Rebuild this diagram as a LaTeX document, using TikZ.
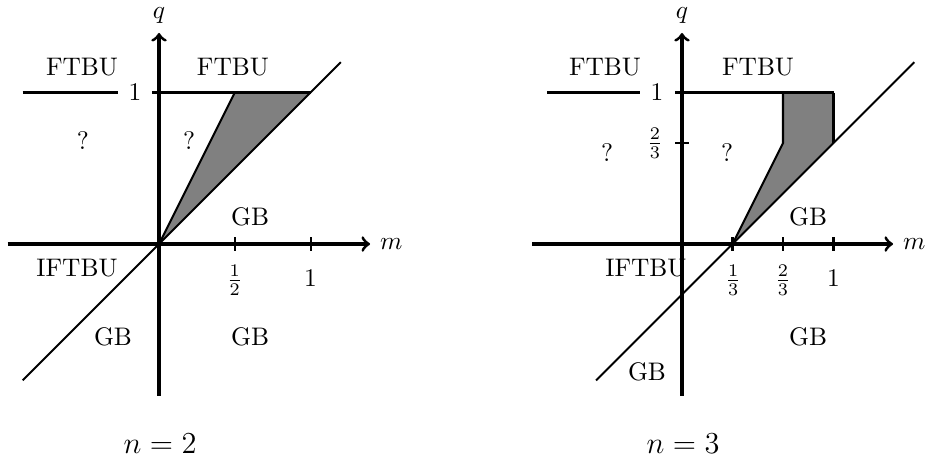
\documentclass[tikz,border=0pt]{standalone}
\begin{document}
\begin{tikzpicture}[x=59.65pt,y=59.65pt,
  axisline/.style={line width=1.2pt,->},
  plotline/.style={line width=0.8pt},
  tickmark/.style={line width=0.8pt},
  lbl/.style={inner sep=0pt},
  caption/.style={font=\large}]
\useasboundingbox (-1.0496,-1.4388) rectangle (5.0692,1.6107);
% ---------- left panel, n = 2 ----------
\begin{scope}
  \fill[gray] (0,0) -- (0.5,1) -- (1,1) -- cycle;
  \draw[plotline] (0,0) -- (0.5,1);
  \coordinate (L-d1) at (-0.9,-0.9);
  \coordinate (L-d2) at (1.2,1.2);
  \draw[plotline] (L-d1) -- (L-d2);
  \node[lbl] (L-one) at (-0.158,1) {$1$};
  \coordinate (L-h0) at (-0.9,1);
  \coordinate (L-h1) at (-0.046,1);
  \coordinate (L-h2) at (1,1);
  \draw[plotline] (L-h0) -- ([xshift=-4pt]L-one.west);
  \draw[plotline] (L-h1) -- (L-h2);
  \coordinate (L-xa) at (-1,0);
  \coordinate (L-xb) at (1.393,0);
  \coordinate (L-ya) at (0,-1);
  \coordinate (L-yb) at (0,1.393);
  \draw[axisline] (L-xa) -- (L-xb) node[right] (L-m) {$m$};
  \draw[axisline] (L-ya) -- (L-yb) node[above] (L-q) {$q$};
  \draw[tickmark] (0.5,0.046) -- (0.5,-0.046);
  \draw[tickmark] (1,0.046) -- (1,-0.046);
  \node (L-t1) at (0.5,-0.238) {$\frac{1}{2}$};
  \node (L-t2) at (1,-0.224) {$1$};
  \node (L-f1) at (-0.508,1.168) {FTBU};
  \node (L-f2) at (0.488,1.168) {FTBU};
  \node (L-u1) at (-0.502,0.686) {?};
  \node (L-u2) at (0.198,0.686) {?};
  \node (L-g1) at (0.601,0.178) {GB};
  \node (L-i) at (-0.541,-0.158) {IFTBU};
  \node (L-g2) at (-0.304,-0.614) {GB};
  \node (L-g3) at (0.601,-0.614) {GB};
  \node[caption] (L-n) at (0.007,-1.32) {$n=2$};
\end{scope}
% ---------- right panel, n = 3 ----------
\begin{scope}[shift={(3.452,0)}]
  \fill[gray] (1/3,0) -- (2/3,2/3) -- (2/3,1) -- (1,1) -- (1,2/3) -- cycle;
  \draw[plotline] (1/3,0) -- (2/3,2/3) -- (2/3,1);
  \draw[plotline] (1,1) -- (1,2/3);
  \coordinate (R-d1) at (-0.567,-0.9);
  \coordinate (R-d2) at (1.533,1.2);
  \draw[plotline] (R-d1) -- (R-d2);
  \node[lbl] (R-one) at (-0.165,1) {$1$};
  \coordinate (R-h0) at (-0.891,1);
  \coordinate (R-h1) at (-0.046,1);
  \coordinate (R-h2) at (1,1);
  \draw[plotline] (R-h0) -- ([xshift=-4pt]R-one.west);
  \draw[plotline] (R-h1) -- (R-h2);
  \draw[tickmark] (-0.046,2/3) -- (0.046,2/3);
  \node (R-q23) at (-0.178,2/3) {$\frac{2}{3}$};
  \coordinate (R-xa) at (-0.99,0);
  \coordinate (R-xb) at (1.393,0);
  \coordinate (R-ya) at (0,-1);
  \coordinate (R-yb) at (0,1.393);
  \draw[axisline] (R-xa) -- (R-xb) node[right] (R-m) {$m$};
  \draw[axisline] (R-ya) -- (R-yb) node[above] (R-q) {$q$};
  \draw[tickmark] (1/3,0.046) -- (1/3,-0.046);
  \draw[tickmark] (2/3,0.046) -- (2/3,-0.046);
  \draw[tickmark] (1,0.046) -- (1,-0.046);
  \node (R-t1) at (0.337,-0.238) {$\frac{1}{3}$};
  \node (R-t2) at (0.667,-0.238) {$\frac{2}{3}$};
  \node (R-t3) at (1,-0.224) {$1$};
  \node (R-f1) at (-0.508,1.168) {FTBU};
  \node (R-f2) at (0.502,1.168) {FTBU};
  \node (R-u1) at (-0.495,0.601) {?};
  \node (R-u2) at (0.297,0.601) {?};
  \node (R-g1) at (0.832,0.178) {GB};
  \node (R-i) at (-0.238,-0.158) {IFTBU};
  \node (R-g2) at (0.832,-0.614) {GB};
  \node (R-g3) at (-0.231,-0.845) {GB};
  \node[caption] (R-n) at (0.007,-1.32) {$n=3$};
\end{scope}
\end{tikzpicture}
\end{document}
